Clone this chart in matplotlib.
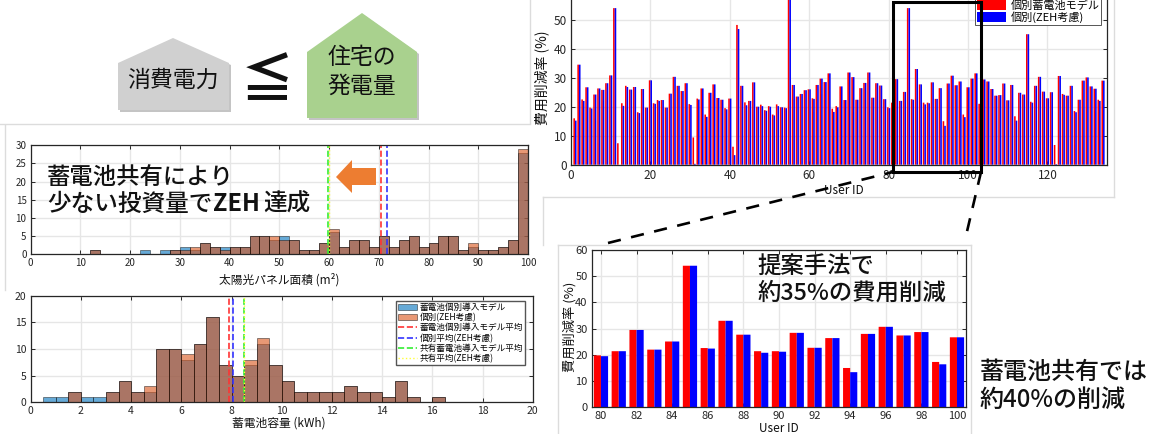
import numpy as np
import matplotlib
matplotlib.use("Agg")
import matplotlib.pyplot as plt
from matplotlib.lines import Line2D
from matplotlib.patches import Polygon, Rectangle

plt.rcParams['font.family'] = ['Noto Sans CJK JP', 'DejaVu Sans']

W, H = 1153, 434

# ---------- data ----------
user_ids = list(range(1, 135))
model_individual = [16,34.5,22.5,26.7,19.7,24.2,26.3,25.8,28.1,30.8,54,7.4,21.2,27.2,25.9,26.8,18.1,26.1,19.7,29.1,
    21.2,22.3,22.3,19.7,24.5,30.3,27.2,25.4,28.1,20.9,9.4,22.8,26.3,17.3,24.8,27.7,23,22.4,19.5,22.8,
    6.2,48.2,27.2,21.5,22,28.4,20,20.7,18.8,20.2,17.3,20.8,19.8,19.7,60,27.5,23.5,24.4,25.7,26,
    22.9,27.5,29.7,28.5,31.5,19.3,20.2,27,22.3,31.8,30.2,22.4,26.4,28.2,31.8,23.1,28.1,27.3,22.6,19.8,
    21.4,29.5,22,25.1,54,22.6,33,27.7,21.4,21.4,28.4,22.7,26.4,15,28,30.7,27.4,28.7,17.3,26.7,
    29.7,31.5,21,29.4,28.7,26.1,23.8,24,28,22.2,27.5,16.7,24.8,24.2,45,21.7,27.2,30.3,25.2,22.9,
    25,6.8,30.6,24.4,23.8,27.2,18.5,22.4,29,30.1,27,26.2,22.4,29]
model_zeh = [15.2,34.5,22,26.7,19.4,24.2,26.3,25.8,28.1,30.8,54,0,20.3,26.8,25.9,26.8,17.8,26.1,19.7,29.1,
    21,22,22.3,19.7,24.5,30.3,27.2,25.4,28.1,20.6,0.3,22.5,26.3,16.5,24.8,27.7,23,22.4,19.1,22.8,
    3.3,46.8,27.2,20.5,22,28.4,20,20.2,18.6,20,17,20.2,19.8,19.5,60,27.5,23.5,24.4,25.7,26,
    22.7,27.5,29.7,28.5,31.5,18.2,19.8,27,22.3,31.8,30.2,22.4,26.4,28.2,31.8,23.1,28.1,27.3,22.6,19.5,
    21.4,29.5,22,25.1,54,22.4,33,27.7,20.8,21.2,28.4,22.7,26.4,13.4,28,30.7,27.4,28.7,16.4,26.7,
    29.7,31.5,21,29.4,28.7,26.1,23.8,24,28,22.2,27.5,15.2,24.8,24.2,45,21.4,27.2,30.3,25.2,22.9,
    25,0.2,30.6,24.1,23.8,27.2,18.1,22.4,29,30.1,27,26.2,22,29]

pv_edges = list(range(0, 102, 2))
pv_individual = [0,0,0,0,0,0,1,0,0,0,0,1,0,1,1,2,1,3,2,2,2,2,5,5,4,5,4,1,1,3,6,2,4,4,2,5,2,4,5,2,3,5,5,1,2,1,1,2,4,28]
pv_zeh        = [0,0,0,0,0,0,1,0,0,0,0,0,0,0,1,1,2,3,2,1,2,2,5,5,5,4,4,1,1,3,7,2,4,4,2,5,2,4,5,2,3,5,5,1,3,1,1,2,4,29]
pv_means = {'individual': 70.4, 'zeh': 71.7, 'shared': 59.8, 'shared_zeh': 59.9}

bat_edges = [i * 0.5 for i in range(0, 41)]
bat_individual = [0,1,1,2,1,1,2,4,2,2,10,10,8,11,16,7,5,7,11,7,4,2,2,2,2,3,2,2,1,4,1,0,1,0,0,0,0,0,0,0]
bat_zeh        = [0,0,0,2,0,0,2,4,2,3,10,10,9,11,16,7,5,8,12,7,4,2,2,2,2,3,2,2,1,4,1,0,1,0,0,0,0,0,0,0]
bat_means = {'individual': 7.9, 'zeh': 8.05, 'shared': 8.49, 'shared_zeh': 8.5}

zoom_first, zoom_last = 80, 100

RED, BLUE = '#ff0000', '#0000ff'
H_BLUE, H_ORANGE = '#0072BD', '#D95319'
DARK = '#262626'
GRID = '#e6e6e6'

# ---------- helpers ----------
fig = plt.figure(figsize=(W / 100, H / 100), dpi=100, facecolor='white')

def fx(x): return x / W
def fy(y): return 1 - y / H
def pt(x, y): return (fx(x), fy(y))

def make_axes(left, top, right, bottom):
    ax = fig.add_axes([fx(left), fy(bottom), (right - left) / W, (bottom - top) / H])
    ax.set_axisbelow(True)
    ax.grid(True, color=GRID, lw=1)
    ax.tick_params(direction='in', top=True, right=True, length=3, width=0.7,
                   color=DARK, labelcolor=DARK, pad=3, labelsize=8)
    for s in ax.spines.values():
        s.set_color(DARK)
        s.set_linewidth(0.9)
    return ax

def poly(pts, **kw):
    fig.add_artist(Polygon([pt(*p) for p in pts], closed=True, transform=fig.transFigure, **kw))

def line(x0, y0, x1, y1, **kw):
    fig.add_artist(Line2D([fx(x0), fx(x1)], [fy(y0), fy(y1)], transform=fig.transFigure, **kw))

def label(x, y, s, size, weight='normal', ha='center', va='center', color='#111111', **kw):
    fig.text(fx(x), fy(y), s, fontsize=size, fontweight=weight, ha=ha, va=va, color=color, **kw)

def unsnap(container):
    for patch in container:
        patch.set_snap(False)

# panel frames
for seg in [(530, 0, 530, 123), (0, 124, 530, 124), (5, 125, 5, 290),
            (543, 197, 1114, 197), (1114, 0, 1114, 197), (543, 197, 543, 245),
            (558, 245, 971, 245), (558, 245, 558, 434), (971, 245, 971, 434)]:
    line(*seg, color='#dcdcdc', lw=1, zorder=-1)

# ---------- top bar chart ----------
users = np.array(user_ids)
ax = make_axes(571, 0, 1107, 164.7)
unsnap(ax.bar(users - 0.2, model_individual, 0.4, color=RED, label='個別蓄電池モデル'))
unsnap(ax.bar(users + 0.2, model_zeh, 0.4, color=BLUE, label='個別(ZEH考慮)'))
ax.set_xlim(0, 135)
ax.set_ylim(0, 56.8)
ax.set_xticks(range(0, 121, 20))
ax.set_yticks(range(0, 51, 10))
ax.spines['top'].set_visible(False)
ax.tick_params(top=False, labelsize=8.5)
label(542, 78, '費用削減率 (%)', 10, rotation=90)
label(844, 190, 'User ID', 8.5)
leg = ax.legend(loc='lower right', bbox_to_anchor=(fx(1101), fy(25)), bbox_transform=fig.transFigure,
                fontsize=8, frameon=True, fancybox=False, edgecolor='#555555', framealpha=1,
                borderpad=0.15, labelspacing=0.1, handlelength=2.6, handleheight=1.0,
                handletextpad=0.4, borderaxespad=0)
leg.get_frame().set_linewidth(0.7)
leg.set_zorder(5)

# ---------- zoomed box and leaders ----------
fig.add_artist(Rectangle((fx(893), fy(172)), 88 / W, 170 / H, transform=fig.transFigure,
                         fill=False, ec='black', lw=2.2, zorder=6))
line(608, 243, 893, 172, color='black', lw=1.9, ls=(0, (5, 4)), zorder=6)
line(981, 172, 965, 240, color='black', lw=1.9, ls=(0, (5, 4)), zorder=6)

# ---------- zoomed bar chart ----------
ax = make_axes(591.7, 250, 965.7, 407.3)
idx = slice(zoom_first - 1, zoom_last)
unsnap(ax.bar(users[idx] - 0.2, model_individual[idx], 0.4, color=RED))
unsnap(ax.bar(users[idx] + 0.2, model_zeh[idx], 0.4, color=BLUE))
ax.set_xlim(zoom_first - 0.52, zoom_last + 0.49)
ax.set_ylim(0, 60)
ax.set_xticks(range(zoom_first, zoom_last + 1, 2))
ax.set_yticks(range(0, 61, 10))
ax.tick_params(labelsize=8)
label(570, 327, '費用削減率 (%)', 9.5, rotation=90)
label(779, 429, 'User ID', 8.5)
label(757, 267, '提案手法で', 16.8, weight='medium', ha='left')
label(757, 293, '約35%の費用削減', 16.8, weight='medium', ha='left')

# ---------- PV histogram ----------
ax = make_axes(30.7, 145.3, 528, 254)
ax.bar(pv_edges[:-1], pv_individual, 2, align='edge', color=H_BLUE, alpha=0.6, ec='black', lw=0.5)
ax.bar(pv_edges[:-1], pv_zeh, 2, align='edge', color=H_ORANGE, alpha=0.6, ec='black', lw=0.5)
ax.axvline(pv_means['individual'], color='#ff3333', ls='--', lw=1.2)
ax.axvline(pv_means['zeh'], color='#3333ff', ls='--', lw=1.2)
ax.axvline(pv_means['shared'], color='#33ee33', ls='--', lw=1.2)
ax.axvline(pv_means['shared_zeh'], color='#ffff33', ls=':', lw=1.0)
ax.set_xlim(0, 100)
ax.set_ylim(0, 30)
ax.set_xticks(range(0, 101, 10))
ax.set_yticks(range(0, 31, 5))
ax.tick_params(labelsize=7)
label(279, 280, '太陽光パネル面積 (m²)', 8.5)
label(47, 177, '蓄電池共有により', 16.8, weight='medium', ha='left')
label(47, 204, '少ない投資量で', 17, weight='medium', ha='left')
label(213, 204, 'ZEH', 17, weight='bold', ha='left')
label(263, 204, '達成', 17, weight='medium', ha='left')
poly([(336, 177), (352, 160), (352, 168), (376, 168), (376, 185), (352, 185), (352, 193)],
     fc='#ED7D31', ec='none', zorder=6)

# ---------- battery histogram ----------
ax = make_axes(30.7, 295.7, 532.7, 402.3)
b1 = ax.bar(bat_edges[:-1], bat_individual, 0.5, align='edge', color=H_BLUE, alpha=0.6, ec='black', lw=0.5,
            label='蓄電池個別導入モデル')
b2 = ax.bar(bat_edges[:-1], bat_zeh, 0.5, align='edge', color=H_ORANGE, alpha=0.6, ec='black', lw=0.5,
            label='個別(ZEH考慮)')
l1 = ax.axvline(bat_means['individual'], color='#ff3333', ls='--', lw=1.2, label='蓄電池個別導入モデル平均')
l2 = ax.axvline(bat_means['zeh'], color='#3333ff', ls='--', lw=1.2, label='個別平均(ZEH考慮)')
l3 = ax.axvline(bat_means['shared'], color='#33ee33', ls='--', lw=1.2, label='共有蓄電池導入モデル平均')
l4 = ax.axvline(bat_means['shared_zeh'], color='#ffff33', ls=':', lw=1.0, label='共有平均(ZEH考慮)')
ax.set_xlim(0, 20)
ax.set_ylim(0, 20)
ax.set_xticks(range(0, 21, 2))
ax.set_yticks(range(0, 21, 5))
ax.tick_params(labelsize=7.5)
label(279, 423, '蓄電池容量 (kWh)', 8.5)
leg = ax.legend(handles=[b1, b2, l1, l2, l3, l4],
                loc='upper left', bbox_to_anchor=(fx(396), fy(301)), bbox_transform=fig.transFigure,
                fontsize=6.2, frameon=True, fancybox=False, edgecolor='#555555', framealpha=1,
                borderpad=0.2, labelspacing=0.14, handlelength=2.2, handletextpad=0.35, borderaxespad=0)
leg.get_frame().set_linewidth(1.0)

# ---------- house diagram ----------
gray_house = [(173, 38), (118, 63), (118, 110), (229, 110), (229, 63)]
green_house = [(362, 13), (307, 52), (307, 118), (417, 118), (417, 52)]
poly([(x + 2, y + 2) for x, y in gray_house], fc='#c4c4c4', ec='none', zorder=1)
poly(gray_house, fc='#D0D0D0', ec='none', zorder=2)
poly([(x + 2, y + 2) for x, y in green_house], fc='#c4c4c4', ec='none', zorder=1)
poly(green_house, fc='#A9D18E', ec='none', zorder=2)
label(173, 80, '消費電力', 16.5)
label(362, 57, '住宅の', 16.5)
label(362, 86, '発電量', 16.5)
label(267, 82, '≦', 38, weight='bold')

# ---------- side note ----------
label(980, 372, '蓄電池共有では', 17.3, weight='medium', ha='left')
label(980, 400, '約40%の削減', 17.3, weight='medium', ha='left')

fig.savefig('out.png', dpi=100)
